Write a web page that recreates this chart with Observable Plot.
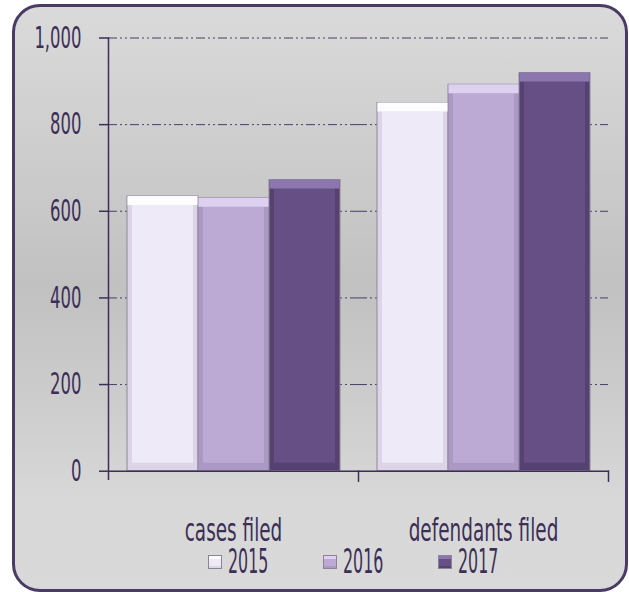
<!DOCTYPE html>
<html>
<head>
<meta charset="utf-8">
<script src="https://cdn.jsdelivr.net/npm/d3@7"></script>
<script src="https://cdn.jsdelivr.net/npm/@observablehq/plot@0.6"></script>
<style>
  body { margin: 0; width: 629px; height: 592px; position: relative; overflow: hidden; background: #ffffff;
         font-family: "Liberation Sans Narrow", "DejaVu Sans Condensed", "Liberation Sans", sans-serif; }
  #frame { position: absolute; left: 12px; top: 4px; width: 616px; height: 588px; box-sizing: border-box;
           border: 3px solid #4a3a66; border-radius: 28px;
           background: linear-gradient(to bottom, #dadada 0%, #cdcdcd 25%, #c1c1c1 48%, #cecece 70%, #d8d8d8 85%, #d9d9d9 100%); }
  #chart { position: absolute; left: 0; top: 0; }
  #legend { position: absolute; left: 0; top: 552px; width: 629px; height: 20px; box-sizing: border-box;
            padding-left: 98px; padding-right: 21px; display: flex; justify-content: center; align-items: center; gap: 55px; }
  .item { display: flex; align-items: center; gap: 6px; height: 20px; }
  .sw { width: 14px; height: 14px; box-sizing: border-box; border: 1px solid #8a8494; }
  .lab { display: inline-block; width: 40px; height: 20px; overflow: visible; white-space: nowrap; }
  .lab span { display: inline-block; font-size: 28px; line-height: 20px; height: 20px; color: #3c2f57;
              transform: scale(0.63, 1.18); transform-origin: left center; }
</style>
</head>
<body>
<div id="frame"></div>
<div id="chart"></div>
<div id="legend"></div>
<script>
// ---- data ----
const categories = ["cases filed", "defendants filed"];
const years = ["2015", "2016", "2017"];
const casesFiled = [634, 630, 672];
const defendantsFiled = [850, 892, 919];
const yTicks = [0, 200, 400, 600, 800, 1000];

// ---- styles ----
const mainColors = ["#efeaf7", "#bcaad4", "#654f84"];
const edgeColors = ["#dcd5e7", "#ab98c5", "#554172"];
const topColors  = ["#fdfcff", "#ddd0f0", "#8c76ae"];
const ink = "#3c2f57";

const seriesByCategory = [casesFiled, defendantsFiled];
const rows = categories.flatMap((c, i) =>
  years.map((y, j) => ({category: c, year: y, value: seriesByCategory[i][j], k: j})));

const fmt = d3.format(",");

const chart = Plot.plot({
  width: 629,
  height: 560,
  marginLeft: 107,
  marginRight: 21,
  marginTop: 37.5,
  marginBottom: 89.3,
  style: {background: "transparent", color: ink,
          fontFamily: '"Liberation Sans Narrow", "DejaVu Sans Condensed", "Liberation Sans", sans-serif'},
  fx: {domain: categories, padding: 0, label: null},
  x: {domain: years, paddingInner: 0, paddingOuter: 0.25, axis: null},
  y: {domain: [0, 1000], label: null},
  color: {type: "identity"},
  marks: [
    Plot.gridY(yTicks.filter(d => d > 0), {stroke: "#4b3d66", strokeOpacity: 1, strokeWidth: 1, strokeDasharray: "9,3,2,3,2,3"}),
    Plot.barY(rows, {fx: "category", x: "year", y: "value", fill: d => edgeColors[d.k], stroke: "#8f8898", strokeWidth: 1}),
    Plot.barY(rows, {fx: "category", x: "year", y: "value", fill: d => mainColors[d.k],
                     insetLeft: 5, insetRight: 5, insetTop: 9, insetBottom: 8}),
    Plot.barY(rows, {fx: "category", x: "year", y1: "value", y2: "value", fill: d => topColors[d.k],
                     insetLeft: 0.5, insetRight: 0.5, insetBottom: -9}),
    Plot.ruleY([0], {stroke: ink, strokeWidth: 1.5}),
    Plot.frame({anchor: "left", facetAnchor: "left", insetBottom: -8, stroke: ink, strokeWidth: 1.5}),
    Plot.frame({anchor: "right", insetTop: 433, insetBottom: -10, stroke: ink, strokeWidth: 1.5}),
    Plot.axisY({ticks: yTicks, tickFormat: d => fmt(d), tickSize: 9, tickPadding: 18, fontSize: 30, strokeWidth: 1.5, label: null}),
    Plot.axisFx({anchor: "bottom", tickSize: 0, tickPadding: 47, fontSize: 32, label: null})
  ]
});
document.getElementById("chart").appendChild(chart);

// condense text like the original narrow typeface
function squeeze(selector, f) {
  chart.querySelectorAll(selector).forEach(t => {
    const w = t.getComputedTextLength();
    t.setAttribute("textLength", (w * f).toFixed(1));
    t.setAttribute("lengthAdjust", "spacingAndGlyphs");
  });
}
squeeze('g[aria-label="y-axis tick label"] text', 0.61);
squeeze('g[aria-label="fx-axis tick label"] text', 0.64);

// legend
const legend = document.getElementById("legend");
years.forEach((y, j) => {
  const item = document.createElement("div");
  item.className = "item";
  const sw = document.createElement("div");
  sw.className = "sw";
  sw.style.background = mainColors[j];
  sw.style.boxShadow = `inset 0 3px 0 ${topColors[j]}, inset 0 -2px 0 ${edgeColors[j]}`;
  const lab = document.createElement("div");
  lab.className = "lab";
  const s = document.createElement("span");
  s.textContent = y;
  lab.appendChild(s);
  item.appendChild(sw);
  item.appendChild(lab);
  legend.appendChild(item);
});
</script>
</body>
</html>
